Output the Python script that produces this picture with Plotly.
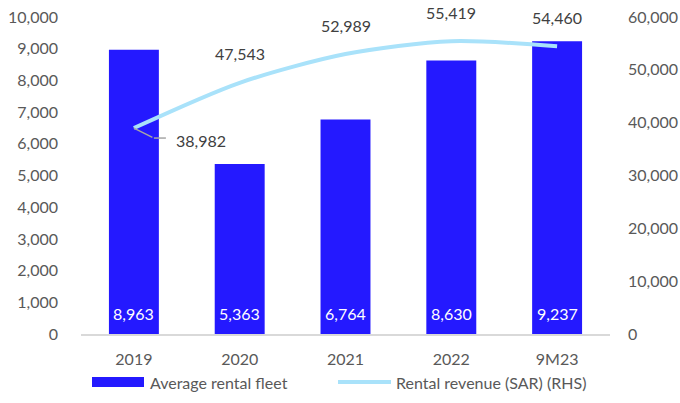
import plotly.graph_objects as go

# Chart data
periods = ["2019", "2020", "2021", "2022", "9M23"]
fleet = [8963, 5363, 6764, 8630, 9237]
revenue = [38982, 47543, 52989, 55419, 54460]

BAR_COLOR = "#2419FF"
LINE_COLOR = "#A9E2FA"
LEADER_COLOR = "#A6A6A6"
AXIS_TEXT = "#595959"
LABEL_TEXT = "#404040"
FONT = "Lato"

fig = go.Figure()

fig.add_trace(go.Bar(
    x=periods, y=fleet, name="Average rental fleet",
    marker=dict(color=BAR_COLOR, line=dict(width=0)),
    showlegend=False, yaxis="y",
))

fig.add_trace(go.Scatter(
    x=periods, y=revenue, name="Rental revenue (SAR) (RHS)",
    mode="lines", line=dict(color=LINE_COLOR, width=4, shape="spline", smoothing=0.8),
    showlegend=False, yaxis="y2",
))

# Fleet value labels, placed near the base of each bar
for i, v in enumerate(fleet):
    fig.add_annotation(
        x=i, y=0, xref="x", yref="y", text=f"{v:,}", showarrow=False,
        yanchor="middle", yshift=21,
        font=dict(color="white", size=16, family=FONT),
    )

# Revenue value labels (category index used as x position)
for i, v in enumerate(revenue):
    if i == 0:
        # first label sits to the right with a bent leader line
        fig.add_annotation(
            x=i, y=v, xref="x", yref="y2", text=f"{v:,}", showarrow=False,
            xshift=67, yshift=-12,
            font=dict(color=LABEL_TEXT, size=16, family=FONT),
        )
        fig.add_annotation(
            x=i, y=v, xref="x", yref="y2", text="", showarrow=True,
            arrowhead=0, arrowcolor=LEADER_COLOR, arrowwidth=1.5,
            ax=20, ay=10, standoff=0,
        )
        fig.add_shape(
            type="line", xref="x", yref="y2",
            xsizemode="pixel", xanchor=i, ysizemode="pixel", yanchor=v,
            x0=20, x1=32, y0=-10, y1=-10,
            line=dict(color=LEADER_COLOR, width=1.5),
        )
    else:
        fig.add_annotation(
            x=i, y=v, xref="x", yref="y2", text=f"{v:,}", showarrow=False,
            yshift=29,
            font=dict(color=LABEL_TEXT, size=16, family=FONT),
        )

# Legend drawn below the plot
fig.add_shape(type="rect", xref="paper", yref="paper",
              x0=(92 - 81) / 529, x1=(144 - 81) / 529,
              y0=-(377 - 334) / 317, y1=-(387 - 334) / 317,
              fillcolor=BAR_COLOR, line=dict(width=0))
fig.add_annotation(xref="paper", yref="paper", x=(148 - 81) / 529, y=-(382 - 334) / 317,
                   text="Average rental fleet", showarrow=False, xanchor="left", yanchor="middle",
                   font=dict(color=AXIS_TEXT, size=16, family=FONT))
fig.add_shape(type="line", xref="paper", yref="paper",
              x0=(338 - 81) / 529, x1=(391 - 81) / 529,
              y0=-(382 - 334) / 317, y1=-(382 - 334) / 317,
              line=dict(color=LINE_COLOR, width=4))
fig.add_annotation(xref="paper", yref="paper", x=(394 - 81) / 529, y=-(382 - 334) / 317,
                   text="Rental revenue (SAR) (RHS)", showarrow=False, xanchor="left", yanchor="middle",
                   font=dict(color=AXIS_TEXT, size=16, family=FONT))

fig.update_layout(
    width=680, height=403,
    margin=dict(l=81, r=70, t=17, b=69),
    paper_bgcolor="white", plot_bgcolor="white",
    bargap=0.528,
    showlegend=False,
    font=dict(family=FONT, color=AXIS_TEXT, size=16),
    xaxis=dict(
        type="category", range=[-0.5, len(periods) - 0.5], automargin=False,
        showgrid=False, showline=True, linecolor="#D9D9D9", linewidth=1.5,
        ticks="", ticklabelstandoff=10,
        tickfont=dict(size=16, color=AXIS_TEXT, family=FONT),
    ),
    yaxis=dict(
        range=[0, 10000], dtick=1000, tickformat=",d", automargin=False,
        showgrid=False, zeroline=False, showline=False,
        ticklabelstandoff=22,
        tickfont=dict(size=16, color=AXIS_TEXT, family=FONT),
    ),
    yaxis2=dict(
        range=[0, 60000], dtick=10000, tickformat=",d", automargin=False,
        overlaying="y", side="right",
        showgrid=False, zeroline=False, showline=False,
        ticklabelstandoff=17,
        tickfont=dict(size=16, color=AXIS_TEXT, family=FONT),
    ),
)

fig.write_html("out.html")
